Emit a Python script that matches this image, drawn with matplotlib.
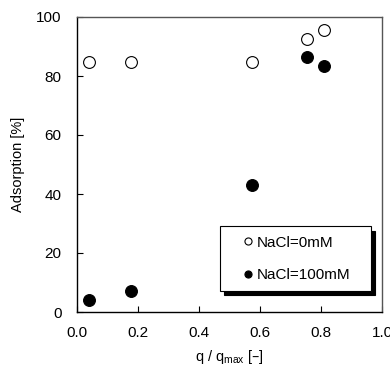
import matplotlib
matplotlib.use("Agg")
import matplotlib.pyplot as plt

plt.rcParams['font.family'] = ['Liberation Sans', 'DejaVu Sans']

q_ratio = [0.04, 0.177, 0.575, 0.754, 0.81]
ads_0mM = [84.6, 84.9, 84.7, 92.4, 95.6]
q_ratio_100 = [0.04, 0.177, 0.575, 0.754, 0.81]
ads_100mM = [3.9, 7.2, 43.2, 86.4, 83.3]
labels = ["NaCl=0mM", "NaCl=100mM"]
xticks = [0.0, 0.2, 0.4, 0.6, 0.8, 1.0]
yticks = [0, 20, 40, 60, 80, 100]

fig = plt.figure(figsize=(3.9, 3.67), dpi=100)
ax = fig.add_axes([77/390, 1-312/367, 305/390, 295/367])

ax.plot(q_ratio, ads_0mM, 'o', ms=8.5, mfc='white', mec='black', mew=0.8, label=labels[0], clip_on=False)
ax.plot(q_ratio_100, ads_100mM, 'o', ms=8.5, mfc='black', mec='black', mew=0.8, label=labels[1], clip_on=False)

ax.set_xlim(0, 1.0)
ax.set_ylim(0, 100)
ax.set_xticks(xticks)
ax.set_xticklabels([f"{t:.1f}" for t in xticks])
ax.set_yticks(yticks)
ax.tick_params(direction='in', length=4, width=0.8, labelsize=11)
ax.tick_params(axis='x', pad=10)
ax.tick_params(axis='y', pad=11)
for s in ['left', 'bottom']:
    ax.spines[s].set_color('black')
    ax.spines[s].set_linewidth(1.0)
for s in ['top', 'right']:
    ax.spines[s].set_color('#555555')
    ax.spines[s].set_linewidth(1.0)

ax.set_xlabel(r"q / q$_{\mathregular{max}}$ [–]", fontsize=10.5, labelpad=5.5)
ax.set_ylabel("Adsorption [%]", fontsize=10.5, labelpad=8)

leg = ax.legend(loc='lower left', bbox_to_anchor=(0.469, 0.071, 0.495, 0.227), mode='expand',
                fontsize=11, frameon=True, fancybox=False, edgecolor='black', framealpha=1,
                markerscale=0.6, handlelength=2.4, handletextpad=-0.6, labelspacing=1.2,
                borderpad=0.6, borderaxespad=0,
                shadow={'color': 'black', 'alpha': 1, 'ox': 3, 'oy': -3})
leg.get_frame().set_linewidth(0.8)

fig.savefig("out.png", dpi=100)
